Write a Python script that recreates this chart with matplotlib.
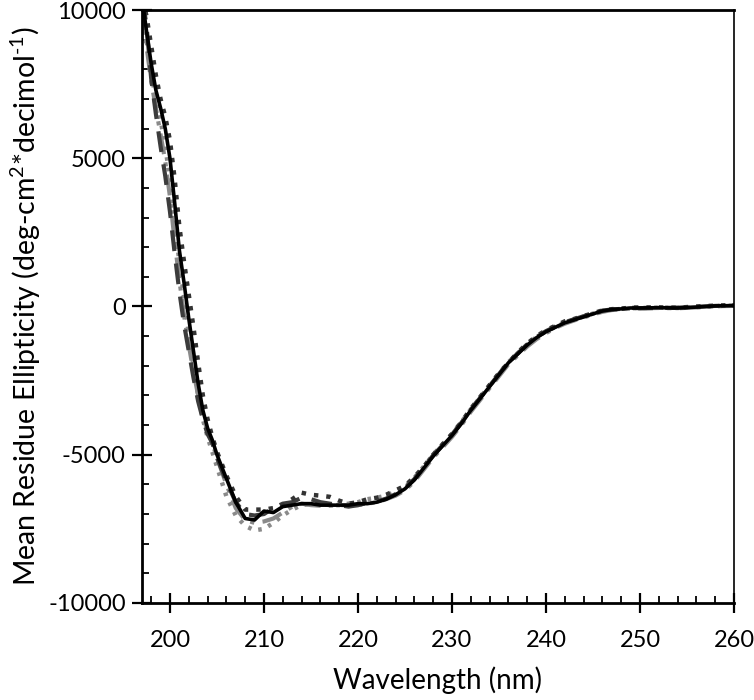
import matplotlib
matplotlib.use("Agg")
import matplotlib.pyplot as plt
from matplotlib.ticker import MultipleLocator

plt.rcParams['font.family'] = ['Lato', 'DejaVu Sans']
plt.rcParams['axes.unicode_minus'] = False
plt.rcParams['mathtext.fontset'] = 'custom'
plt.rcParams['mathtext.rm'] = 'Lato'
plt.rcParams['mathtext.it'] = 'Lato:italic'
plt.rcParams['mathtext.bf'] = 'Lato:bold'

wavelength = [197.0, 197.5, 198.0, 198.5, 199.0, 199.5, 200.0, 200.5, 201.0, 201.5,
              202.0, 202.5, 203.0, 203.5, 204.0, 204.5, 205.0,
              206, 207, 208, 209, 210, 211, 212, 213, 214, 215, 216, 217, 218, 219,
              220, 221, 222, 223, 224, 225, 226, 227, 228, 229, 230, 231, 232, 233,
              234, 235, 236, 237, 238, 239, 240, 241, 242, 243, 244, 245, 246, 247,
              248, 249, 250, 252, 254, 256, 258, 260]

solid_black = [10500, 9300, 8200, 7300, 6700, 6000, 5000, 3500, 1900, 800,
               -400, -1500, -2600, -3500, -4100, -4500, -5000,
               -5800, -6600, -7150, -7200, -6900, -6950, -6750, -6700, -6650, -6650, -6700, -6700, -6700, -6700,
               -6650, -6650, -6600, -6500, -6350, -6150, -5850, -5450, -5050, -4700, -4350, -3950, -3500, -3100,
               -2700, -2300, -1900, -1600, -1300, -1050, -850, -700, -550, -450, -350, -250, -150, -100,
               -80, -50, -50, -40, -50, -20, 20, 30]

dotted_dark = [10500, 9800, 8800, 7800, 7000, 6400, 5600, 4300, 2700, 1500,
               400, -700, -1900, -3000, -3800, -4400, -4900,
               -5700, -6400, -6850, -6850, -6850, -6800, -6700, -6500, -6280, -6350, -6380, -6420, -6550, -6650,
               -6600, -6500, -6450, -6350, -6200, -6050, -5750, -5400, -5000, -4650, -4300, -3900, -3450, -3050,
               -2650, -2250, -1900, -1550, -1250, -1000, -800, -650, -500, -420, -320, -230, -130, -90,
               -70, -40, -30, -30, -40, 0, 30, 50]

dashdot_gray = [10000, 8800, 7600, 6700, 5800, 4900, 3700, 2200, 900, -300,
                -1300, -2200, -3000, -3700, -4200, -4600, -5100,
                -6000, -6800, -7200, -7300, -7250, -7150, -6950, -6750, -6650, -6700, -6720, -6720, -6700, -6700,
                -6700, -6650, -6600, -6500, -6380, -6200, -5900, -5500, -5100, -4750, -4400, -4000, -3550, -3150,
                -2750, -2350, -1950, -1650, -1350, -1100, -900, -720, -580, -470, -370, -270, -180, -120,
                -100, -70, -60, -50, -60, -30, 10, 20]

dashed_dark = [10500, 9500, 7700, 6500, 5400, 4400, 3200, 1800, 500, -600,
               -1500, -2400, -3200, -3800, -4300, -4600, -5100,
               -5900, -6600, -7000, -7050, -7000, -6800, -6650, -6600, -6450, -6500, -6600, -6650, -6700, -6750,
               -6700, -6620, -6580, -6480, -6330, -6120, -5820, -5420, -5020, -4680, -4320, -3920, -3480, -3080,
               -2680, -2280, -1880, -1580, -1280, -1030, -830, -680, -530, -430, -330, -240, -140, -100,
               -80, -40, -60, -50, -40, -10, 20, 40]

dotted_gray = [10000, 9000, 7900, 7000, 6300, 5400, 4300, 2900, 1500, 300,
               -900, -2000, -3000, -3800, -4400, -4900, -5400,
               -6400, -7050, -7400, -7550, -7500, -7300, -7050, -6850, -6700, -6650, -6650, -6700, -6700, -6650,
               -6600, -6500, -6450, -6380, -6250, -6080, -5780, -5400, -5000, -4650, -4300, -3900, -3470, -3070,
               -2670, -2270, -1880, -1580, -1280, -1030, -840, -690, -540, -440, -340, -240, -150, -100,
               -80, -60, -50, -40, -50, -20, 10, 30]

fig = plt.figure(figsize=(7.54, 7.0), dpi=100)
ax = fig.add_axes([0.188, 0.1386, 0.9735 - 0.188, 0.9857 - 0.1386])

ax.plot(wavelength, dotted_gray, color='#8a8a8a', lw=3.2, linestyle=(0, (0.8, 1.6)), solid_capstyle='butt')
ax.plot(wavelength, dashdot_gray, color='#8a8a8a', lw=3.0, linestyle=(0, (5, 2, 1, 2)))
ax.plot(wavelength, dashed_dark, color='#3c3c3c', lw=3.0, linestyle=(0, (5, 3)))
ax.plot(wavelength, dotted_dark, color='#333333', lw=3.2, linestyle=(0, (1, 1.8)))
ax.plot(wavelength, solid_black, color='#000000', lw=2.6)

ax.set_xlim(197, 260)
ax.set_ylim(-10000, 10000)
ax.xaxis.set_major_locator(MultipleLocator(10))
ax.xaxis.set_minor_locator(MultipleLocator(2))
ax.yaxis.set_major_locator(MultipleLocator(5000))
ax.yaxis.set_minor_locator(MultipleLocator(1000))

ax.tick_params(which='major', direction='inout', length=15, width=1.6, labelsize=17, pad=4)
ax.tick_params(which='minor', direction='in', length=5, width=1.3)
ax.tick_params(axis='x', which='major', pad=12)

for side in ['left', 'bottom', 'top']:
    ax.spines[side].set_linewidth(2.0)
ax.spines['right'].set_linewidth(1.2)

ax.set_xlabel('Wavelength (nm)', fontsize=20, labelpad=11)
ax.set_ylabel('Mean Residue Ellipticity (deg-cm$^{2}$*decimol$^{\\text{-}1}$)', fontsize=20.5, labelpad=4)

fig.savefig('out.png', dpi=100)
